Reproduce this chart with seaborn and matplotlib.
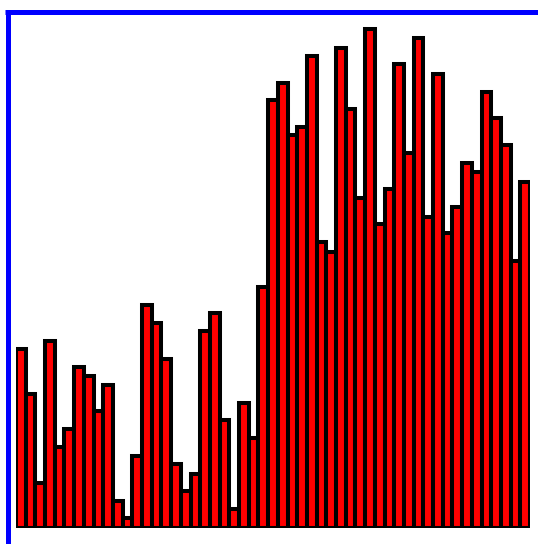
import pandas as pd
import numpy as np
import matplotlib
matplotlib.use("Agg")
import matplotlib.pyplot as plt
import seaborn as sns
from matplotlib.lines import Line2D

# bar heights (pixels above the baseline)
heights = [179, 134, 45, 187, 81, 99, 161, 152, 117, 143,
           27, 10, 72, 223, 205, 169, 64, 37, 54, 197,
           215, 108, 19, 125, 90, 241, 428, 445, 393, 401,
           472, 286, 276, 480, 419, 330, 499, 304, 339, 464,
           375, 490, 311, 454, 295, 321, 365, 356, 436, 410,
           383, 267, 346]
positions = list(range(len(heights)))

df = pd.DataFrame({"pos": positions, "height": heights})

W, H = 538, 544
fig = plt.figure(figsize=(W / 100, H / 100), dpi=100)
fig.patch.set_facecolor("white")
ax = fig.add_axes([16 / W, (H - 528) / H, (530 - 16) / W, (528 - 14) / H])

sns.barplot(data=df, x="pos", y="height", color="#ff0000", saturation=1,
            edgecolor="black", linewidth=2.9, width=1.0, ax=ax)

ax.set_xlim(-0.5, len(heights) - 0.5)
ax.set_ylim(0, 514)
ax.set_axis_off()

# blue frame: only top and left edges fall inside the image
fig.add_artist(Line2D([7.5 / W, 7.5 / W], [0, (H - 11.5) / H],
                      transform=fig.transFigure, color="#0000ff", linewidth=3.6,
                      solid_capstyle="butt"))
fig.add_artist(Line2D([5 / W, 1], [(H - 11.5) / H, (H - 11.5) / H],
                      transform=fig.transFigure, color="#0000ff", linewidth=3.6,
                      solid_capstyle="butt"))

fig.savefig("out.png", dpi=100)
